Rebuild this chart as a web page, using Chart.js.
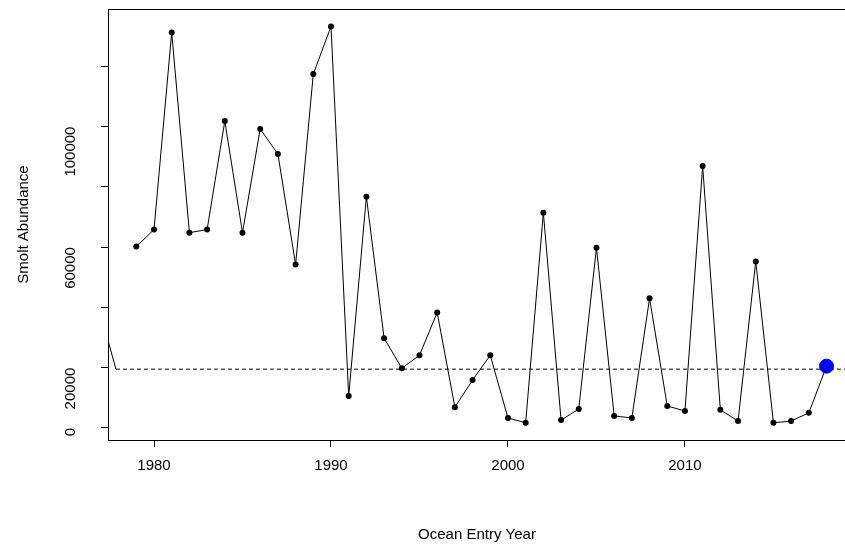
<!DOCTYPE html>
<html>
<head>
<script src="https://cdn.jsdelivr.net/npm/chart.js@4"></script>
<style>
body{margin:0;background:#fff;overflow:hidden}
#frame{width:845px;height:548px;overflow:hidden;position:relative}
#wrap{width:854px;height:578px;position:absolute;top:-30px;left:0}
</style>
</head>
<body>
<div id="frame"><div id="wrap"><canvas id="chart"></canvas></div></div>
<script>
const years = [1979,1980,1981,1982,1983,1984,1985,1986,1987,1988,1989,1990,1991,1992,1993,1994,1995,1996,1997,1998,1999,2000,2001,2002,2003,2004,2005,2006,2007,2008,2009,2010,2011,2012,2013,2014,2015,2016,2017,2018];
const smolts = [60200,65800,131200,64800,65800,101800,64800,99200,90900,54200,117400,133200,10600,76700,29800,19800,24100,38300,6900,15900,24100,3300,1700,71400,2600,6300,59800,4000,3300,43000,7300,5600,86900,6000,2300,55200,1700,2300,5000,20500];
const lastYear = 2018, lastValue = 20500;
const threshold = 19500;
const edgeSeg = [{x:1977.4,y:29000},{x:1977.85,y:19500}];
const xTicks = [1980,1990,2000,2010];
const yTicks = [0,20000,40000,60000,80000,100000,120000];
const yLabels = [0,20000,60000,100000];

const box = {
  id: "box",
  afterDraw(c) {
    const a = c.chartArea, ctx = c.ctx;
    ctx.save(); ctx.strokeStyle = "#000"; ctx.lineWidth = 1;
    ctx.strokeRect(a.left + 0.5, a.top + 0.5, a.right - a.left - 1, a.bottom - a.top);
    ctx.restore();
  }
};

new Chart(document.getElementById("chart"), {
  type: "scatter",
  data: {
    datasets: [
      { data: [{x: lastYear, y: lastValue}], backgroundColor: "#0000ff", borderColor: "#0000ff", pointRadius: 7, order: 0 },
      { data: years.map((y, i) => ({x: y, y: smolts[i]})), showLine: true, borderColor: "#000", backgroundColor: "#000", borderWidth: 1, pointRadius: 3, pointBorderWidth: 0, order: 1 },
      { data: [{x: 1977.85, y: threshold}, {x: 2019.1, y: threshold}], showLine: true, borderColor: "#000", borderWidth: 1, borderDash: [4, 3], pointRadius: 0, order: 2 },
      { data: edgeSeg, showLine: true, borderColor: "#000", borderWidth: 1, pointRadius: 0, order: 3 }
    ]
  },
  options: {
    responsive: true, maintainAspectRatio: false, animation: false,
    plugins: { legend: { display: false }, tooltip: { enabled: false } },
    scales: {
      x: {
        type: "linear", min: 1977.4, max: 2019.1,
        afterBuildTicks: s => { s.ticks = xTicks.map(v => ({value: v})); },
        afterFit: s => { s.height = 108; },
        grid: { drawOnChartArea: false, tickLength: 7, color: "#000" },
        border: { display: false },
        ticks: { color: "#000", font: { family: "Liberation Sans", size: 15 }, padding: 10, callback: v => String(v) },
        title: { display: true, text: "Ocean Entry Year", color: "#000", font: { family: "Liberation Sans", size: 15 }, padding: { top: 34 } }
      },
      y: {
        min: -4000, max: 139000,
        afterBuildTicks: s => { s.ticks = yTicks.map(v => ({value: v})); },
        afterFit: s => { s.width = 108; },
        grid: { drawOnChartArea: false, tickLength: 7, color: "#000" },
        border: { display: false },
        ticks: { color: "#000", font: { family: "Liberation Sans", size: 15 }, minRotation: 90, maxRotation: 90, autoSkip: false, padding: 30, callback: v => yLabels.includes(v) ? String(v) : "" },
        title: { display: true, text: "Smolt Abundance", color: "#000", font: { family: "Liberation Sans", size: 15 }, padding: { top: 15, bottom: 0 } }
      }
    }
  },
  plugins: [box]
});
</script>
</body>
</html>
